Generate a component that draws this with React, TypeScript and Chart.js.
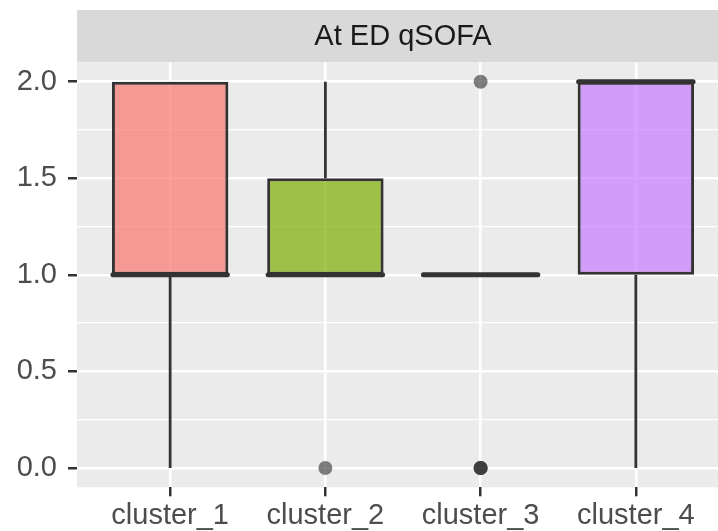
import React, { useEffect, useRef } from "react";
import { Chart, registerables } from "chart.js";

Chart.register(...registerables);

// Box-plot summary per cluster
const CATEGORIES = ["cluster_1", "cluster_2", "cluster_3", "cluster_4"];
const Q1 = [1, 1, 1, 1];
const MEDIAN = [1, 1, 1, 2];
const Q3 = [2, 1.5, 1, 2];
const WHISKER_LOW = [0, 1, 1, 0];
const WHISKER_HIGH = [2, 2, 1, 2];

// Outliers (group index is 1-based, repeated points overlap)
const OUTLIER_GROUP = [2, 3, 3, 3, 3];
const OUTLIER_VALUE = [0, 2, 0, 0, 0];

const FILLS = [
  "rgba(248,118,109,0.7)",
  "rgba(124,174,0,0.7)",
  "rgba(0,191,196,0.7)",
  "rgba(199,124,255,0.7)",
];

const Y_TICKS = [0, 0.25, 0.5, 0.75, 1, 1.25, 1.5, 1.75, 2];
const PANEL_TITLE = "At ED qSOFA";

const FONT_FAMILY = "'Liberation Sans', Arial, sans-serif";
const FONT_SIZE = 29;
const CANVAS_W = 729;
const CANVAS_H = 531;
const STRIP_TOP = 10;
const PANEL_TOP = 62.4;
const PANEL_BOTTOM = 487.3;
const LINE = "#333333";

const isMajor = (v: number) => Math.abs(v * 2 - Math.round(v * 2)) < 1e-6;

// Grey panel background and facet strip with its label
const panelPlugin = {
  id: "panelStrip",
  beforeDraw(chart: any) {
    const { ctx, chartArea } = chart;
    const w = chartArea.right - chartArea.left;
    ctx.save();
    ctx.fillStyle = "#D9D9D9";
    ctx.fillRect(chartArea.left, STRIP_TOP, w, chartArea.top - STRIP_TOP);
    ctx.fillStyle = "#EBEBEB";
    ctx.fillRect(chartArea.left, chartArea.top, w, chartArea.bottom - chartArea.top);
    ctx.fillStyle = "#1A1A1A";
    ctx.font = `${FONT_SIZE}px ${FONT_FAMILY}`;
    ctx.textAlign = "center";
    ctx.textBaseline = "middle";
    ctx.fillText(PANEL_TITLE, (chartArea.left + chartArea.right) / 2, (STRIP_TOP + chartArea.top) / 2 + 1);
    ctx.restore();
  },
};

// Whiskers go under the boxes, medians on top of them
const boxPlugin = {
  id: "boxParts",
  beforeDatasetsDraw(chart: any) {
    const { ctx } = chart;
    const x = chart.scales.x;
    const y = chart.scales.y;
    ctx.save();
    ctx.strokeStyle = LINE;
    ctx.lineWidth = 2.8;
    ctx.lineCap = "butt";
    CATEGORIES.forEach((_, i) => {
      const px = x.getPixelForValue(i + 1);
      const segs = [
        [Q3[i], WHISKER_HIGH[i]],
        [Q1[i], WHISKER_LOW[i]],
      ];
      segs.forEach(([a, b]) => {
        if (a === b) return;
        ctx.beginPath();
        ctx.moveTo(px, y.getPixelForValue(a));
        ctx.lineTo(px, y.getPixelForValue(b));
        ctx.stroke();
      });
    });
    ctx.restore();
  },
  afterDatasetsDraw(chart: any) {
    const { ctx } = chart;
    const y = chart.scales.y;
    const bars = chart.getDatasetMeta(0).data;
    ctx.save();
    ctx.strokeStyle = LINE;
    ctx.lineWidth = 5;
    ctx.lineCap = "round";
    bars.forEach((bar: any, i: number) => {
      const half = bar.width / 2;
      const py = y.getPixelForValue(MEDIAN[i]);
      ctx.beginPath();
      ctx.moveTo(bar.x - half + 1, py);
      ctx.lineTo(bar.x + half - 1, py);
      ctx.stroke();
    });
    ctx.restore();
  },
};

export default function App() {
  const canvasRef = useRef<HTMLCanvasElement | null>(null);

  useEffect(() => {
    document.body.style.margin = "0";
    const canvas = canvasRef.current;
    if (!canvas) return;

    const chart = new Chart(canvas, {
      type: "bar",
      data: {
        datasets: [
          {
            type: "bar",
            data: CATEGORIES.map((_, i) => ({ x: i + 1, y: [Q1[i], Q3[i]] })) as any,
            backgroundColor: FILLS,
            borderColor: LINE,
            borderWidth: 3,
            borderSkipped: false,
            categoryPercentage: 1,
            barPercentage: 0.75,
          } as any,
          {
            type: "scatter",
            data: OUTLIER_GROUP.map((g, i) => ({ x: g, y: OUTLIER_VALUE[i] })),
            backgroundColor: "rgba(51,51,51,0.62)",
            borderWidth: 0,
            pointRadius: 7,
            pointHoverRadius: 7,
          } as any,
        ],
      },
      options: {
        responsive: false,
        animation: false,
        devicePixelRatio: 1,
        layout: { autoPadding: false, padding: { top: PANEL_TOP, left: 0, right: 0, bottom: 0 } },
        plugins: {
          legend: { display: false },
          tooltip: { enabled: false },
          title: { display: false },
        },
        scales: {
          x: {
            type: "linear",
            offset: false,
            min: 0.4,
            max: 4.6,
            afterBuildTicks: (s: any) => {
              s.ticks = CATEGORIES.map((_, i) => ({ value: i + 1 }));
            },
            afterFit: (s: any) => {
              s.height = CANVAS_H - PANEL_BOTTOM;
              s.paddingLeft = 0;
              s.paddingRight = 0;
            },
            ticks: {
              autoSkip: false,
              maxRotation: 0,
              minRotation: 0,
              padding: 2,
              color: "#4D4D4D",
              font: { family: FONT_FAMILY, size: FONT_SIZE },
              callback: (v: any) => CATEGORIES[Math.round(Number(v)) - 1] ?? "",
            },
            grid: {
              offset: false,
              color: "#FFFFFF",
              lineWidth: 2.5,
              drawTicks: true,
              tickLength: 9,
              tickWidth: 2.5,
              tickColor: LINE,
            },
            border: { display: false },
          },
          y: {
            type: "linear",
            min: -0.1,
            max: 2.1,
            afterBuildTicks: (s: any) => {
              s.ticks = Y_TICKS.map((v) => ({ value: v }));
            },
            afterFit: (s: any) => {
              s.width = 77;
            },
            ticks: {
              autoSkip: false,
              padding: 11,
              color: "#4D4D4D",
              font: { family: FONT_FAMILY, size: FONT_SIZE },
              callback: (v: any) => (isMajor(Number(v)) ? Number(v).toFixed(1) : ""),
            },
            grid: {
              color: "#FFFFFF",
              lineWidth: (c: any) => (isMajor(c.tick.value) ? 2.5 : 1.3),
              drawTicks: true,
              tickLength: 9,
              tickWidth: 2.5,
              tickColor: (c: any) => (isMajor(c.tick.value) ? LINE : "rgba(0,0,0,0)"),
            },
            border: { display: false },
          },
        },
      } as any,
      plugins: [panelPlugin, boxPlugin],
    });

    return () => chart.destroy();
  }, []);

  return (
    <div style={{ width: 718, height: CANVAS_H, overflow: "hidden" }}>
      <canvas
        ref={canvasRef}
        width={CANVAS_W}
        height={CANVAS_H}
        style={{ display: "block", width: CANVAS_W, height: CANVAS_H }}
      />
    </div>
  );
}
